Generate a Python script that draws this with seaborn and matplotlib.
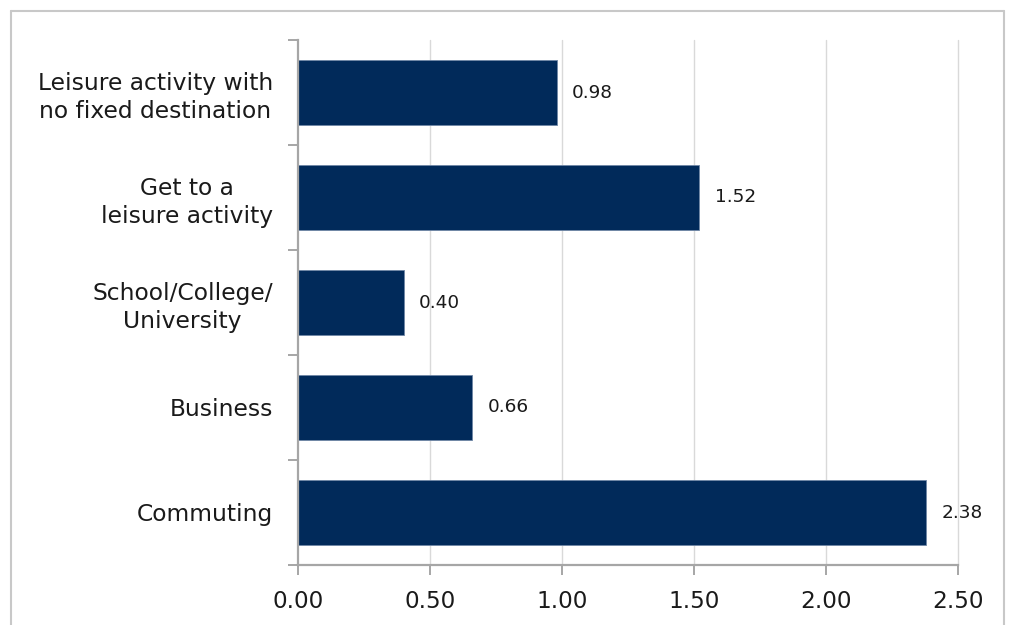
import pandas as pd
import matplotlib
matplotlib.use("Agg")
import matplotlib.pyplot as plt
from matplotlib.lines import Line2D
import seaborn as sns

# Datos del gráfico
categorias = [
    "Leisure activity with\nno fixed destination",
    "Get to a\nleisure activity",
    "School/College/\nUniversity",
    "Business",
    "Commuting",
]
valores = [0.98, 1.52, 0.40, 0.66, 2.38]
ticks_x = [0.0, 0.5, 1.0, 1.5, 2.0, 2.5]

df = pd.DataFrame({"categoria": categorias, "valor": valores})

sns.set_style("white")
plt.rcParams["font.family"] = ["DejaVu Sans"]

COLOR_BARRA = "#012a5a"
GRIS_EJE = "#a6a6a6"

fig = plt.figure(figsize=(10.09, 6.25), dpi=100)
ax = fig.add_axes([298 / 1009, 1 - 565 / 625, 660 / 1009, 525 / 625])

sns.barplot(data=df, x="valor", y="categoria", orient="h", color=COLOR_BARRA,
            width=0.61, edgecolor="#6f86a6", linewidth=0.6, saturation=1, ax=ax)

# Etiquetas de valor
for i, v in enumerate(valores):
    ax.annotate(f"{v:.2f}", xy=(v, i), xytext=(11, 0), textcoords="offset points",
                va="center", ha="left", fontsize=13.3, color="#1a1a1a")

ax.set_xlim(0, 2.5)
ax.set_ylim(4.5, -0.5)
ax.set_xticks(ticks_x)
ax.set_xticklabels([f"{t:.2f}" for t in ticks_x], fontsize=16.7, color="#1a1a1a")
ax.set_xlabel("")
ax.set_ylabel("")

# Cuadrícula vertical
for t in ticks_x[1:]:
    ax.axvline(t, color="#d9d9d9", linewidth=1.0, zorder=0, clip_on=False)

# Ejes y marcas
for lado in ["top", "right"]:
    ax.spines[lado].set_visible(False)
for lado in ["left", "bottom"]:
    ax.spines[lado].set_color(GRIS_EJE)
    ax.spines[lado].set_linewidth(1.6)

ax.tick_params(axis="x", bottom=True, direction="out", length=7, width=1.4,
               color=GRIS_EJE, pad=11)
ax.set_yticks(range(len(categorias)))
ax.set_yticklabels(categorias, fontsize=16.8, color="#1a1a1a", linespacing=1.3)
ax.tick_params(axis="y", which="major", left=True, length=0, pad=18)
ax.set_yticks([i - 0.5 for i in range(len(categorias) + 1)], minor=True)
ax.tick_params(axis="y", which="minor", left=True, direction="out", length=7,
               width=1.4, color=GRIS_EJE)
for lbl in ax.get_yticklabels():
    lbl.set_horizontalalignment("right")
    lbl.set_multialignment("center")

# Borde de la figura
bx0, bx1 = 10.5 / 1009, 1003.5 / 1009
by1 = 1 - 10.5 / 625
for xs, ys in [([bx0, bx0], [0, by1]), ([bx0, bx1], [by1, by1]), ([bx1, bx1], [by1, 0])]:
    fig.add_artist(Line2D(xs, ys, transform=fig.transFigure, color="#c8c8c8", linewidth=1.5))

fig.savefig("out.png", dpi=100)
